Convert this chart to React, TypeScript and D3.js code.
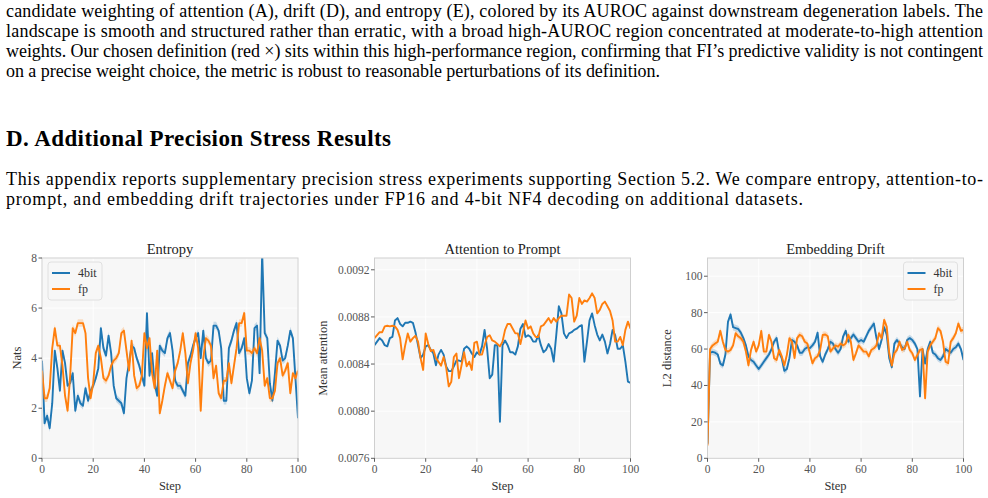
import React from "react";
import * as d3 from "d3";

const steps: number[] = Array.from({ length: 101 }, (_, i) => i);

const entropy4bit = [3.9,1.4,1.7,1.2,2.2,4.3,3.6,2.7,4.3,3.8,2.9,3.0,3.4,1.9,2.5,2.2,2.1,2.8,2.3,2.7,2.9,3.2,3.6,5.2,4.4,4.1,4.9,4.2,2.9,2.4,2.3,2.2,1.8,3.2,3.8,4.5,4.4,4.0,3.7,3.3,2.9,5.8,3.3,4.2,3.0,2.5,4.5,4.3,4.2,4.8,5.0,4.3,3.1,2.9,2.9,2.7,2.5,3.8,4.1,4.5,4.8,5.0,4.0,5.1,4.0,3.8,3.9,5.3,5.3,5.1,4.4,2.3,2.3,4.4,4.7,5.1,5.4,4.2,4.4,4.8,3.2,2.6,3.1,5.2,5.3,3.4,8.2,5.0,4.8,3.0,2.3,3.4,4.7,4.5,3.9,4.0,4.5,5.1,4.8,3.2,1.6];
const entropyFp = [3.5,2.4,2.4,2.8,4.4,5.2,4.5,4.5,3.7,2.5,1.9,3.3,5.2,5.0,5.4,5.4,5.4,5.0,3.2,2.4,3.0,4.2,4.5,4.0,3.2,3.1,3.3,3.7,3.9,4.0,4.2,5.0,5.1,4.3,3.5,4.7,3.3,2.8,2.9,3.3,5.0,4.4,4.8,3.4,2.8,4.3,1.8,2.3,2.9,3.4,3.1,2.8,3.5,3.8,4.3,5.0,4.2,3.0,3.8,4.3,5.0,4.4,1.9,4.0,4.8,4.7,4.5,3.2,3.7,2.6,2.4,3.1,3.1,3.8,3.0,3.7,4.4,5.4,5.4,5.8,4.3,4.3,4.2,4.4,4.2,4.8,4.3,2.9,3.2,2.4,2.4,2.7,3.8,4.0,3.3,3.5,3.8,2.6,3.4,3.2,3.5];

const attn4bit = [85.6,85.9,86.2,86.0,85.6,85.5,86.2,86.3,87.7,87.9,87.4,87.2,87.5,87.5,87.6,87.5,86.7,85.6,84.5,84.8,85.5,85.6,85.2,84.9,83.9,84.8,85.2,84.8,83.8,83.4,83.4,83.8,84.3,84.3,84.2,85.3,85.5,85.3,84.9,84.6,85.0,84.8,85.5,86.9,85.3,82.8,83.1,85.6,85.6,79.1,85.6,86.0,85.6,85.0,85.0,84.8,85.5,87.0,87.4,86.3,86.45,86.3,85.9,85.9,86.45,85.6,85.0,85.2,85.7,85.3,84.2,86.45,88.9,88.3,86.6,86.2,86.6,86.7,86.9,87.0,87.2,87.3,84.2,85.9,87.7,88.3,87.3,86.5,86.0,86.5,85.9,84.9,85.7,86.9,86.45,85.3,85.3,85.6,84.2,82.5,82.4];
const attnFp = [86.2,86.45,86.7,86.7,87.2,87.25,87.2,87.25,87.2,86.9,86.2,84.4,85.6,86.6,85.9,86.2,86.4,85.9,84.5,83.5,86.6,85.7,85.1,85.2,84.5,84.2,83.85,84.6,83.7,82.1,82.5,84.6,84.9,82.8,83.9,85.0,83.8,84.2,83.5,85.8,85.9,84.8,84.8,85.6,86.3,86.45,86.0,85.9,85.7,85.5,85.9,86.9,87.4,87.4,87.0,86.6,86.6,85.7,86.7,87.7,87.0,87.2,86.6,86.3,86.3,87.2,87.3,87.6,87.9,87.5,87.9,87.6,87.9,88.1,88.1,88.1,89.9,89.6,87.6,88.1,89.6,89.1,89.4,89.3,89.6,90.0,89.6,88.3,88.6,89.1,89.3,88.9,88.5,87.7,85.9,85.9,86.3,85.6,86.9,87.6,87.0];

const drift4bit = [8,58,58.5,58,57,52,51,57,75,79,72,71.5,71,69,66,62,56,54,53,51,49,51,53,55,57,60,64,66,58,55,48,49,55,65,64,62,58,58,60,61,60.5,62,64,69,56,53,57,60,64,63,60,58,60,67,70,64,66,68,66,64,65,64,67,70,72,74,66,60,65,72,68,55,50,63,65,63,61,60,65,66,65,63,60,34,60,52,60,64,58,57,55,54,56,60,59,58,60,61,63,60,54];
const driftFp = [7,60,62,63,64,70,64,59.5,58.6,59.5,62,68.7,67,66,64,58.6,51,59.5,64,58.6,62,70,58.6,58.6,67.8,64,55,54,59.5,56,51,56.8,66,64,55,66,67.8,67,64,63,57.7,52.2,55,56,59.5,67.8,68,67,58.6,60.4,62,61.3,63,62,63,67.8,64,54,57.7,62,60.4,58.6,58.6,56,59.5,60.4,62,68.7,66,76,72.3,57.7,51,57.7,59.5,64,59.5,60.4,64,59.5,57.7,54,56.8,59.5,60,33,58.6,62,64,66,71.4,70,64,53,52.2,64,66,68.7,74,70,70.5];

const seriesNames = ["4bit", "fp"];
const seriesColors = ["#1f77b4", "#ff7f0e"];

const para1 = [
  "candidate weighting of attention (A), drift (D), and entropy (E), colored by its AUROC against downstream degeneration labels. The",
  "landscape is smooth and structured rather than erratic, with a broad high-AUROC region concentrated at moderate-to-high attention",
  "weights. Our chosen definition (red \u00d7) sits within this high-performance region, confirming that FI\u2019s predictive validity is not contingent",
  "on a precise weight choice, the metric is robust to reasonable perturbations of its definition.",
];
const para1Widths = [977, 977, 977, 654];
const heading = "D. Additional Precision Stress Results";
const para2 = [
  "This appendix reports supplementary precision stress experiments supporting Section 5.2. We compare entropy, attention-to-",
  "prompt, and embedding drift trajectories under FP16 and 4-bit NF4 decoding on additional datasets.",
];
const para2Widths = [977, 797];

type PanelCfg = {
  title: string;
  ylabel: string;
  ylabelX: number;
  x0: number;
  s4: number[];
  sf: number[];
  yDomain: [number, number];
  yTicks: number[];
  fmt: (v: number) => string;
  band: number;
  legend: "left" | "right" | null;
  scale: number;
};

const TOP = 258;
const BOT = 458.3;
const W = 256;
const serif = "'Liberation Serif', 'Times New Roman', serif";

function Panel({ cfg, id }: { cfg: PanelCfg; id: string }) {
  const x = d3.scaleLinear().domain([0, 100]).range([cfg.x0, cfg.x0 + W]);
  const y = d3.scaleLinear().domain(cfg.yDomain).range([BOT, TOP]);
  const xTicks = [0, 20, 40, 60, 80, 100];
  const line = d3
    .line<number>()
    .x((_, i) => x(steps[i]))
    .y((d) => y(d * cfg.scale));
  const area = d3
    .area<number>()
    .x((_, i) => x(steps[i]))
    .y0((d) => y(d * cfg.scale - cfg.band))
    .y1((d) => y(d * cfg.scale + cfg.band));
  const data = [cfg.s4, cfg.sf];
  const midX = cfg.x0 + W / 2;
  const legX = cfg.legend === "left" ? cfg.x0 + 6 : cfg.x0 + W - 60;
  return (
    <g>
      <defs>
        <clipPath id={id}>
          <rect x={cfg.x0} y={TOP} width={W} height={BOT - TOP} />
        </clipPath>
      </defs>
      <rect x={cfg.x0} y={TOP} width={W} height={BOT - TOP} fill="#f7f7f7" />
      {xTicks.map((t) => (
        <line key={"gx" + t} x1={x(t)} x2={x(t)} y1={TOP} y2={BOT} stroke="#ffffff" strokeWidth={0.9} />
      ))}
      {cfg.yTicks.map((t) => (
        <line key={"gy" + t} x1={cfg.x0} x2={cfg.x0 + W} y1={y(t)} y2={y(t)} stroke="#ffffff" strokeWidth={0.9} />
      ))}
      <g clipPath={`url(#${id})`}>
        {data.map((s, k) => (
          <g key={k}>
            <path d={area(s) || ""} fill={seriesColors[k]} opacity={0.22} />
            <path d={line(s) || ""} fill="none" stroke={seriesColors[k]} strokeWidth={1.9} strokeLinejoin="round" />
          </g>
        ))}
      </g>
      <rect x={cfg.x0} y={TOP} width={W} height={BOT - TOP} fill="none" stroke="#cfcfcf" strokeWidth={1} />
      {xTicks.map((t) => (
        <g key={"tx" + t}>
          <line x1={x(t)} x2={x(t)} y1={BOT} y2={BOT + 3.5} stroke="#333" strokeWidth={0.8} />
          <text x={x(t)} y={BOT + 15} textAnchor="middle" fontSize={11.5} fill="#555" fontFamily={serif}>
            {t}
          </text>
        </g>
      ))}
      {cfg.yTicks.map((t) => (
        <g key={"ty" + t}>
          <line x1={cfg.x0 - 3.5} x2={cfg.x0} y1={y(t)} y2={y(t)} stroke="#333" strokeWidth={0.8} />
          <text x={cfg.x0 - 5} y={y(t) + 4} textAnchor="end" fontSize={11.5} fill="#555" fontFamily={serif}>
            {cfg.fmt(t)}
          </text>
        </g>
      ))}
      <text x={midX} y={TOP - 4} textAnchor="middle" fontSize={14.5} fill="#222" fontFamily={serif}>
        {cfg.title}
      </text>
      <text x={midX} y={BOT + 32} textAnchor="middle" fontSize={12.5} fill="#333" fontFamily={serif}>
        Step
      </text>
      <text
        transform={`translate(${cfg.ylabelX},${(TOP + BOT) / 2}) rotate(-90)`}
        textAnchor="middle"
        fontSize={12.5}
        fill="#333"
        fontFamily={serif}
      >
        {cfg.ylabel}
      </text>
      {cfg.legend && (
        <g>
          <rect x={legX} y={262} width={54} height={38} rx={3} fill="#f7f7f7" stroke="#dddddd" strokeWidth={0.9} />
          {seriesNames.map((n, k) => (
            <g key={n}>
              <line x1={legX + 4} x2={legX + 22} y1={273 + k * 16} y2={273 + k * 16} stroke={seriesColors[k]} strokeWidth={2} />
              <text x={legX + 30} y={277 + k * 16} fontSize={12} fill="#333" fontFamily={serif}>
                {n}
              </text>
            </g>
          ))}
        </g>
      )}
    </g>
  );
}

const panels: PanelCfg[] = [
  {
    title: "Entropy",
    ylabel: "Nats",
    ylabelX: 21,
    x0: 42,
    s4: entropy4bit,
    sf: entropyFp,
    yDomain: [0, 8],
    yTicks: [0, 2, 4, 6, 8],
    fmt: (v) => String(v),
    band: 0.15,
    legend: "left",
    scale: 1,
  },
  {
    title: "Attention to Prompt",
    ylabel: "Mean attention",
    ylabelX: 327,
    x0: 374.5,
    s4: attn4bit,
    sf: attnFp,
    yDomain: [0.0076, 0.0093],
    yTicks: [0.0076, 0.008, 0.0084, 0.0088, 0.0092],
    fmt: (v) => v.toFixed(4),
    band: 0.000003,
    legend: null,
    scale: 0.0001,
  },
  {
    title: "Embedding Drift",
    ylabel: "L2 distance",
    ylabelX: 671,
    x0: 707.5,
    s4: drift4bit,
    sf: driftFp,
    yDomain: [0, 110],
    yTicks: [0, 20, 40, 60, 80, 100],
    fmt: (v) => String(v),
    band: 1.8,
    legend: "right",
    scale: 1,
  },
];

export default function App() {
  return (
    <svg width={988} height={498} style={{ position: "absolute", left: 0, top: 0, background: "#fff" }}>
      <rect width={988} height={498} fill="#fff" />
      {para1.map((l, i) => (
        <text
          key={"p1" + i}
          x={6}
          y={17 + i * 20}
          fontSize={18}
          fontFamily={serif}
          fill="#000"
          textLength={para1Widths[i]}
          lengthAdjust="spacing"
        >
          {l}
        </text>
      ))}
      <text x={6} y={146} fontSize={23} fontWeight="bold" fontFamily={serif} fill="#000" textLength={385} lengthAdjust="spacing">
        {heading}
      </text>
      {para2.map((l, i) => (
        <text
          key={"p2" + i}
          x={6}
          y={185 + i * 20}
          fontSize={18}
          fontFamily={serif}
          fill="#000"
          textLength={para2Widths[i]}
          lengthAdjust="spacing"
        >
          {l}
        </text>
      ))}
      {panels.map((p, i) => (
        <Panel key={i} cfg={p} id={"clip" + i} />
      ))}
    </svg>
  );
}
